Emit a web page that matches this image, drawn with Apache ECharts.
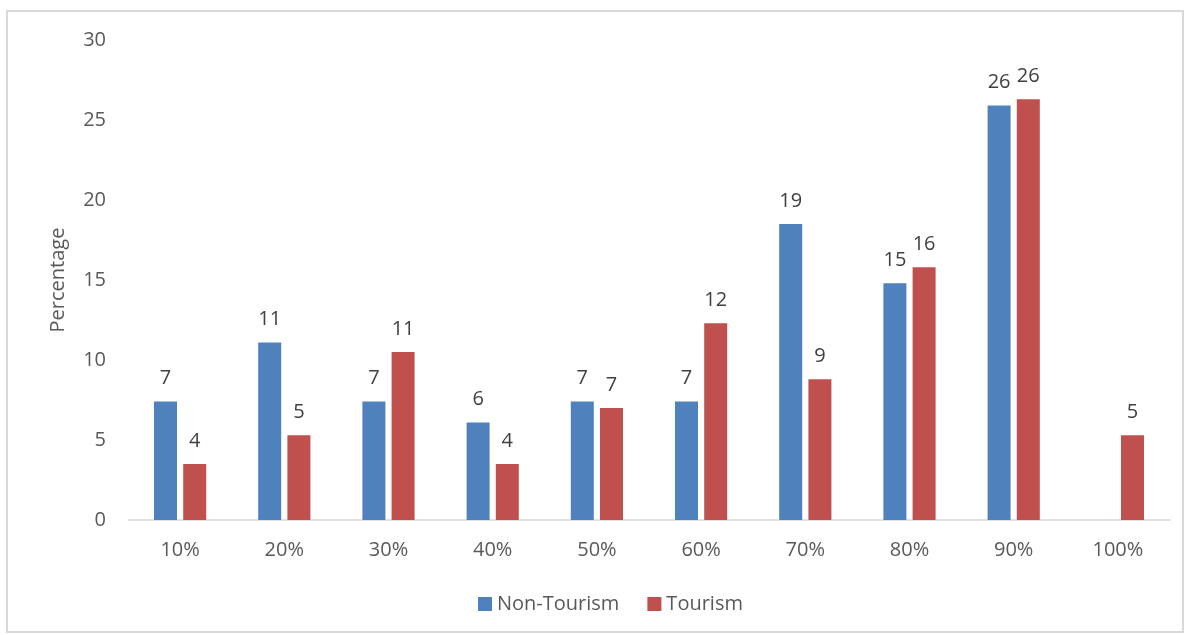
<!DOCTYPE html>
<html>
<head>
<meta charset="utf-8">
<script src="https://cdn.jsdelivr.net/npm/echarts@6/dist/echarts.min.js"></script>
<style>
  html, body { margin: 0; padding: 0; background: #fff; }
  #chart { width: 1186px; height: 635px; }
</style>
</head>
<body>
<div id="chart"></div>
<script>
  const categories = ['10%', '20%', '30%', '40%', '50%', '60%', '70%', '80%', '90%', '100%'];
  const nonTourism = [7.4, 11.1, 7.4, 6.1, 7.4, 7.4, 18.5, 14.8, 25.9, null];
  const tourism = [3.5, 5.3, 10.5, 3.5, 7.0, 12.3, 8.8, 15.8, 26.3, 5.3];
  const yTicks = { min: 0, max: 30, interval: 5 };

  const FONT = "'Open Sans', 'Noto Sans', sans-serif";
  const chart = echarts.init(document.getElementById('chart'), null, { renderer: 'canvas' });

  const mk = (name, data, color) => ({
    name,
    type: 'bar',
    data,
    barWidth: 23,
    barGap: '27%',
    itemStyle: { color },
    label: {
      show: true,
      position: 'top',
      distance: 13,
      color: '#404040',
      fontSize: 20,
      fontFamily: FONT,
      formatter: (p) => (p.value == null ? '' : String(Math.round(p.value))),
    },
  });

  chart.setOption({
    animation: false,
    textStyle: { fontFamily: FONT },
    graphic: [{
      type: 'rect',
      shape: { x: 7, y: 11, width: 1176, height: 621 },
      style: { fill: 'none', stroke: '#d9d9d9', lineWidth: 2 },
      silent: true,
    }],
    grid: { left: 128, right: 16, top: 40, bottom: 115 },
    legend: {
      bottom: 16,
      left: 473,
      itemWidth: 14,
      itemHeight: 14,
      itemGap: 28,
      icon: 'rect',
      textStyle: { color: '#595959', fontSize: 20, fontFamily: FONT },
      data: ['Non-Tourism', 'Tourism'],
    },
    xAxis: {
      type: 'category',
      data: categories,
      axisLine: { lineStyle: { color: '#d9d9d9', width: 1.5 } },
      axisTick: { show: false },
      axisLabel: { color: '#595959', fontSize: 20, margin: 20, fontFamily: FONT },
    },
    yAxis: {
      type: 'value',
      min: yTicks.min,
      max: yTicks.max,
      interval: yTicks.interval,
      name: 'Percentage',
      nameLocation: 'middle',
      nameGap: 60,
      nameTextStyle: { color: '#595959', fontSize: 20, fontFamily: FONT },
      axisLine: { show: false },
      axisTick: { show: false },
      splitLine: { show: false },
      axisLabel: { color: '#595959', fontSize: 20, margin: 22, fontFamily: FONT },
    },
    series: [
      mk('Non-Tourism', nonTourism, '#4f81bd'),
      mk('Tourism', tourism, '#c0504d'),
    ],
  });
</script>
</body>
</html>
